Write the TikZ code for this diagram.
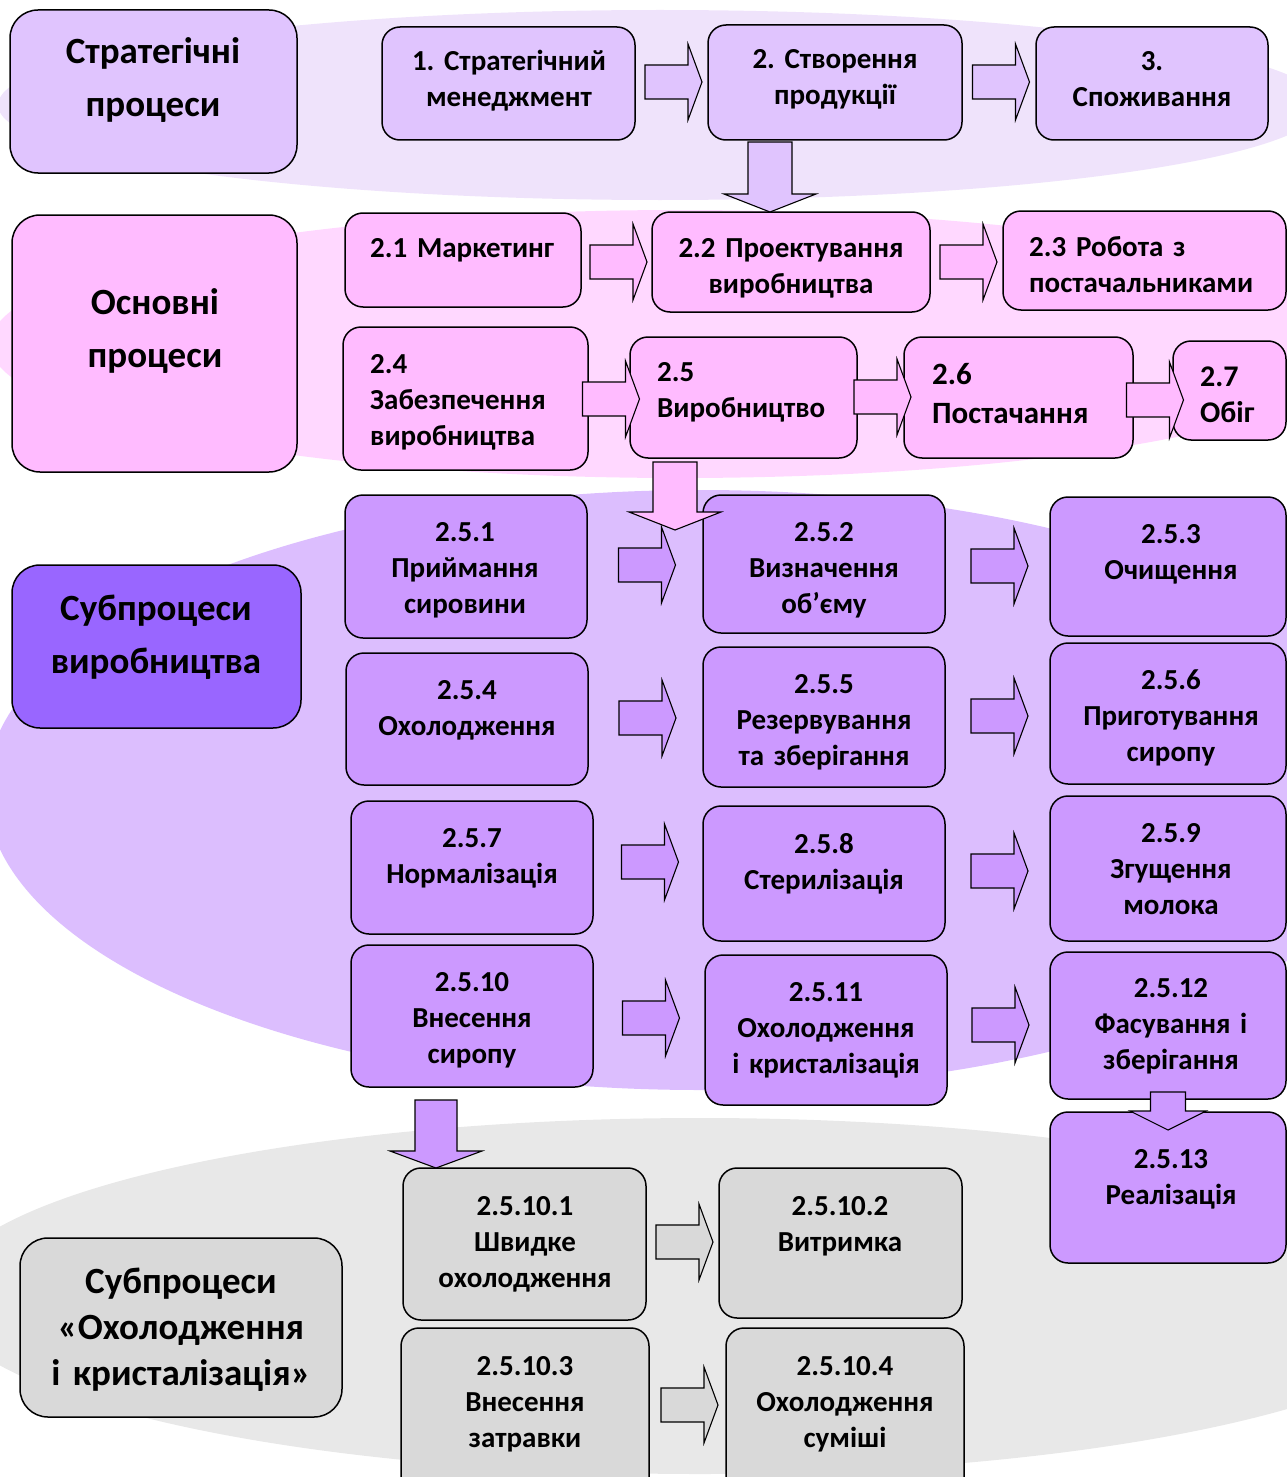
\documentclass[tikz,border=0pt]{standalone}
\usepackage{fontspec}
\setmainfont{Carlito}
\usetikzlibrary{calc}
\frenchspacing

\definecolor{stratbg}{HTML}{EFE3FB}
\definecolor{stratbox}{HTML}{E0C4FE}
\definecolor{pinkbg}{HTML}{FFD8FF}
\definecolor{pinkbox}{HTML}{FFBBFF}
\definecolor{purpbg}{HTML}{DCBEFE}
\definecolor{purpbox}{HTML}{CC99FF}
\definecolor{purptitle}{HTML}{9966FF}
\definecolor{graybg}{HTML}{E8E8E8}
\definecolor{graybox}{HTML}{D9D9D9}

% rounded process box: name, x1, y1, x2, y2, fill, extra options
\newcommand{\procbox}[7]{%
  \node[box,#7,fill=#6,minimum width={(#4-#2)*1pt},minimum height={(#5-#3)*1pt},
        anchor=north west] (#1) at (#2,#3) {};}

% block arrow pointing right, centred between two boxes at height #3
\newcommand{\rblk}[4]{%
  \coordinate (#1#2) at ($(#1.east)!0.5!(#2.west)$);
  \draw[blk,fill=#4] (#1#2 |- 0,#3) ++(-26.5,-17) -- ++(43,0) -- ++(0,-21)
    -- ++(14,38) -- ++(-14,38) -- ++(0,-21) -- ++(-43,0) -- cycle;}

% block arrow pointing down: tip, length, shaft half width, head half width, head length, fill
\newcommand{\dblk}[6]{%
  \draw[blk,fill=#6] (#1) ++(-#3,-#2) -- ++({2*#3},0) -- ++(0,{#2-#5})
    -- ++({#4-#3},0) -- (#1) -- ++(-#4,-#5) -- ++({#4-#3},0) -- cycle;}

\begin{document}
\begin{tikzpicture}[x=1pt,y=-1pt,
  box/.style={draw=black,line width=1.5pt,rounded corners=18pt,inner sep=0pt,outer sep=0pt},
  titlebox/.style={rounded corners=28pt},
  blk/.style={draw=black,line width=1.1pt,line join=miter},
  ct/.style={anchor=base,align=center,inner sep=0pt,text width=#1,
             font=\bfseries\fontsize{29}{36}\selectfont},
  ct/.default=236pt,
  lt/.style={anchor=base west,align=left,inner sep=0pt,text width=#1,
             font=\bfseries\fontsize{29}{36}\selectfont},
  lt/.default=236pt,
  tt/.style={anchor=base,align=center,inner sep=0pt,text width=300pt,
             font=\bfseries\fontsize{37}{53}\selectfont}]

\useasboundingbox (0,0) rectangle (1287,1477);
\clip (0,0) rectangle (1287,1477);

% background bands
\fill[stratbg] (660,105) ellipse [x radius=662pt, y radius=95pt];
\fill[pinkbg]  (680,344) ellipse [x radius=690pt, y radius=134pt];
\fill[purpbg]  (700,790) ellipse [x radius=714pt, y radius=300pt];
\fill[graybg]  (700,1296) ellipse [x radius=760pt, y radius=178pt];

% strategic processes
\procbox{tS}{10}{10}{297}{173}{stratbox}{titlebox}
\procbox{s1}{382}{27}{635}{140}{stratbox}{}
\procbox{s2}{708}{25}{962}{140}{stratbox}{}
\procbox{s3}{1036}{27}{1268}{140}{stratbox}{}

% main processes
\procbox{tM}{12}{215}{297}{472}{pinkbox}{titlebox}
\procbox{m1}{345}{213}{581}{307}{pinkbox}{}
\procbox{m2}{652}{212}{930}{312}{pinkbox}{}
\procbox{m3}{1003}{211}{1286}{310}{pinkbox}{}
\procbox{m4}{343}{327}{588}{470}{pinkbox}{}
\procbox{m5}{630}{337}{857}{458}{pinkbox}{}
\procbox{m6}{904}{337}{1133}{458}{pinkbox}{}
\procbox{m7}{1173}{341}{1286}{440}{pinkbox}{}

% production subprocesses
\procbox{tP}{12}{565}{301}{728}{purptitle}{titlebox}
\procbox{a1}{345}{495}{587}{638}{purpbox}{}
\procbox{a2}{703}{495}{945}{633}{purpbox}{}
\procbox{a3}{1050}{497}{1286}{636}{purpbox}{}
\procbox{b1}{346}{653}{588}{785}{purpbox}{}
\procbox{b2}{703}{647}{945}{787}{purpbox}{}
\procbox{b3}{1050}{643}{1286}{784}{purpbox}{}
\procbox{c1}{351}{801}{593}{934}{purpbox}{}
\procbox{c2}{703}{806}{945}{941}{purpbox}{}
\procbox{c3}{1050}{796}{1286}{941}{purpbox}{}
\procbox{d1}{351}{945}{593}{1087}{purpbox}{}
\procbox{d2}{705}{955}{947}{1105}{purpbox}{}
\procbox{d3}{1050}{952}{1286}{1099}{purpbox}{}
\procbox{e3}{1050}{1112}{1286}{1263}{purpbox}{}

% cooling and crystallisation subprocesses
\procbox{tG}{20}{1238}{342}{1417}{graybox}{titlebox}
\procbox{g1}{403}{1168}{646}{1320}{graybox}{}
\procbox{g2}{719}{1168}{962}{1318}{graybox}{}
\procbox{g3}{401}{1328}{649}{1500}{graybox}{}
\procbox{g4}{726}{1328}{964}{1500}{graybox}{}

% labels
\node[tt] (tSt) at (153,64) {Стратегічні\\процеси};
\node[ct] (s1t) at (509,71) {1. Стратегічний\\менеджмент};
\node[ct] (s2t) at (835,69) {2. Створення\\продукції};
\node[ct] (s3t) at (1152,71) {3.\\Споживання};

\node[tt] (tMt) at (155,314) {Основні\\процеси};
\node[lt] (m1t) at (370,257) {2.1 Маркетинг};
\node[ct=270pt] (m2t) at (791,257) {2.2 Проектування\\виробництва};
\node[lt=270pt] (m3t) at (1029,256) {2.3 Робота з\\постачальниками};
\node[lt] (m4t) at (370,373) {2.4\\Забезпечення\\виробництва};
\node[lt] (m5t) at (657,381) {2.5\\Виробництво};
\node[lt,font=\bfseries\fontsize{31}{39}\selectfont] (m6t) at (932,384) {2.6\\Постачання};
\node[lt,font=\bfseries\fontsize{30}{36}\selectfont] (m7t) at (1200,386) {2.7\\Обіг};

\node[tt] (tPt) at (156,620) {Субпроцеси\\виробництва};
\node[ct] (a1t) at (465,541) {2.5.1\\Приймання\\сировини};
\node[ct] (a2t) at (824,541) {2.5.2\\Визначення\\об’єму};
\node[ct] (a3t) at (1171,543) {2.5.3\\Очищення};
\node[ct] (b1t) at (467,699) {2.5.4\\Охолодження};
\node[ct] (b2t) at (824,693) {2.5.5\\Резервування\\та зберігання};
\node[ct] (b3t) at (1171,689) {2.5.6\\Приготування\\сиропу};
\node[ct] (c1t) at (472,847) {2.5.7\\Нормалізація};
\node[ct] (c2t) at (824,853) {2.5.8\\Стерилізація};
\node[ct] (c3t) at (1171,842) {2.5.9\\Згущення\\молока};
\node[ct] (d1t) at (472,991) {2.5.10\\Внесення\\сиропу};
\node[ct] (d2t) at (826,1001) {2.5.11\\Охолодження\\і кристалізація};
\node[ct] (d3t) at (1171,997) {2.5.12\\Фасування і\\зберігання};
\node[ct] (e3t) at (1171,1168) {2.5.13\\Реалізація};

\node[tt,font=\bfseries\fontsize{37}{46}\selectfont] (tGt) at (181,1293)
  {Субпроцеси\\«Охолодження\\і кристалізація»};
\node[ct] (g1t) at (525,1215) {2.5.10.1\\Швидке\\охолодження};
\node[ct] (g2t) at (840,1215) {2.5.10.2\\Витримка};
\node[ct] (g3t) at (525,1375) {2.5.10.3\\Внесення\\затравки};
\node[ct] (g4t) at (845,1375) {2.5.10.4\\Охолодження\\суміші};

% flow arrows
\rblk{s1}{s2}{82}{stratbox}
\rblk{s2}{s3}{82}{stratbox}
\dblk{770,0 |- m2.north}{70}{22}{46}{18}{stratbox}

\rblk{m1}{m2}{262}{pinkbox}
\rblk{m2}{m3}{262}{pinkbox}
\rblk{m4}{m5}{399}{pinkbox}
\rblk{m5}{m6}{397}{pinkbox}
\rblk{m6}{m7}{400}{pinkbox}
\dblk{675,530}{68}{22}{46}{18}{pinkbox}

\rblk{a1}{a2}{565}{purpbox}
\rblk{a2}{a3}{566}{purpbox}
\rblk{b1}{b2}{718}{purpbox}
\rblk{b2}{b3}{716}{purpbox}
\rblk{c1}{c2}{862}{purpbox}
\rblk{c2}{c3}{871}{purpbox}
\rblk{d1}{d2}{1018}{purpbox}
\rblk{d2}{d3}{1025}{purpbox}
\dblk{1168,1130}{38}{17.5}{38}{19}{purpbox}
\dblk{436,1168}{68}{21}{46}{17}{purpbox}

\rblk{g1}{g2}{1242}{graybox}
\rblk{g3}{g4}{1405}{graybox}
\end{tikzpicture}
\end{document}
